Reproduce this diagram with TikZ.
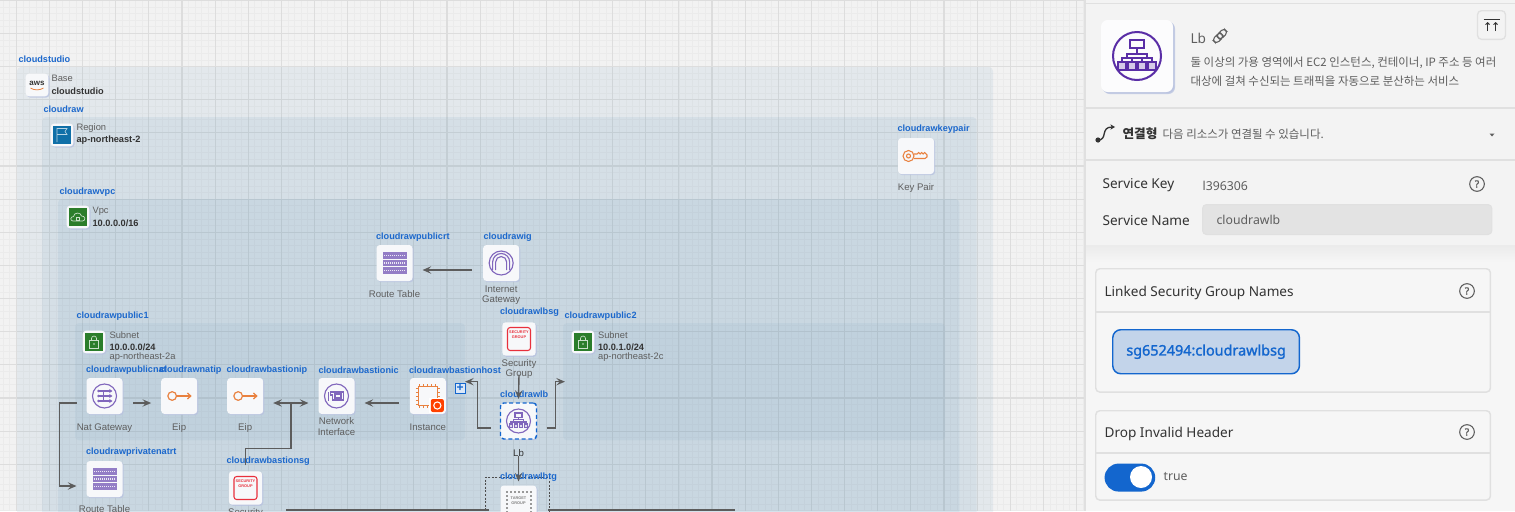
\documentclass[tikz,border=0pt]{standalone}
\usepackage{fontspec}
\setmainfont{Liberation Sans}
\newfontfamily\panelfont{Noto Sans}
\newfontfamily\chipfont{Noto Sans}[FakeBold=1.5]
\newfontfamily\krfont{Noto Sans CJK KR}
\usetikzlibrary{arrows.meta,positioning,shadows}
\definecolor{canvasbg}{HTML}{F2F2F2}
\definecolor{gridminor}{HTML}{EBEBEB}
\definecolor{gridmajor}{HTML}{DDDDDD}
\definecolor{groupblue}{HTML}{5088B0}
\definecolor{tagblue}{HTML}{1C68CC}
\definecolor{tilefill}{HTML}{F7F8FA}
\definecolor{tileshade}{HTML}{B9C3E0}
\definecolor{iconpurple}{HTML}{8066BC}
\definecolor{deeppurple}{HTML}{5A2EA6}
\definecolor{iconorange}{HTML}{E9813F}
\definecolor{iconred}{HTML}{E8303C}
\definecolor{icongreen}{HTML}{2B7D2B}
\definecolor{iconblue}{HTML}{0F6FA8}
\definecolor{wirecolor}{HTML}{5C5C5C}
\definecolor{textdark}{HTML}{333333}
\definecolor{textgray}{HTML}{5E5E5E}
\definecolor{panelbg}{HTML}{F3F3F3}
\definecolor{cardbg}{HTML}{F6F6F6}
\definecolor{panelline}{HTML}{E0E0E0}
\definecolor{chipfill}{HTML}{C3D4EA}
\definecolor{uiblue}{HTML}{1366CE}
\tikzset{
  groupbox/.style={
    rectangle,
    rounded corners=3pt,
    fill=groupblue,
    fill opacity=0.09,
    anchor=north west,
    outer sep=0pt
  },
  subnetbox/.style={
    groupbox,
    fill opacity=0.065,
    minimum height=88pt
  },
  tile/.style={
    rectangle,
    rounded corners=2.5pt,
    fill=tilefill,
    minimum size=27pt,
    inner sep=0pt,
    outer sep=0pt,
    drop shadow={shadow xshift=.9pt,shadow yshift=-.9pt,fill=tileshade,opacity=.8}
  },
  smalltile/.style={
    tile,
    minimum size=17pt
  },
  sgtile/.style={
    tile,
    minimum size=25pt
  },
  picked/.style={
    draw=uiblue,
    line width=1.1pt,
    densely dashed
  },
  nametag/.style={
    anchor=west,
    inner sep=0pt,
    text=tagblue,
    font=\fontsize{6.85}{9}\selectfont\bfseries
  },
  kindtext/.style={
    anchor=west,
    inner sep=0pt,
    text=textgray,
    font=\fontsize{7}{8}\selectfont
  },
  valuetext/.style={
    anchor=west,
    inner sep=0pt,
    text=textdark,
    font=\fontsize{6.9}{8}\selectfont\bfseries
  },
  tiletext/.style={
    align=center,
    inner sep=0pt,
    text=textgray,
    font=\fontsize{7.2}{7.6}\selectfont
  },
  wire/.style={
    line width=1.05pt,
    draw=wirecolor
  },
  flow/.style={
    wire,
    -{Stealth[length=6.5pt,width=5.5pt,inset=2.5pt]}
  },
  bothflow/.style={
    wire,
    {Stealth[length=6.5pt,width=5.5pt,inset=2.5pt]}-{Stealth[length=6.5pt,width=5.5pt,inset=2.5pt]}
  },
  paneltext/.style={
    anchor=west,
    inner sep=0pt,
    yshift=-1.1pt,
    text=textdark,
    font=\panelfont\fontsize{10.2}{12}\selectfont
  },
  panelsmall/.style={
    paneltext,
    text=textgray,
    font=\panelfont\fontsize{9.2}{11}\selectfont
  },
  krtext/.style={
    anchor=west,
    inner sep=0pt,
    text=textgray,
    font=\krfont\fontsize{8.6}{10}\selectfont
  },
  card/.style={
    rectangle,
    rounded corners=3pt,
    draw=panelline,
    line width=1.1pt,
    fill=cardbg,
    anchor=north west
  },
  helpmark/.style={
    circle,
    draw=textgray,
    line width=.8pt,
    minimum size=11pt,
    inner sep=0pt,
    text=textgray,
    font=\chipfont\fontsize{7.5}{8}\selectfont
  },
  rule/.style={
    line width=1.1pt,
    draw=panelline
  },
  rticon/.pic={
    \foreach \ry in {-7.5,0,7.5} {
      \fill[iconpurple!85] (-12,\ry-3.2) rectangle (12,\ry+3.2);
      \draw[white!85!iconpurple,line width=.9pt,dash pattern=on 1pt off .5pt] (-10.5,\ry) -- (10.5,\ry);
    }
  },
  igwicon/.pic={
    \draw[iconpurple] (0,0) circle (12);
    \draw[iconpurple] (-5.5,7) -- (-5.5,-1) arc[start angle=180,end angle=0,x radius=5.5,y radius=-5.5] -- (5.5,7);
    \draw[iconpurple] (-8.5,7) -- (-8.5,-1) arc[start angle=180,end angle=0,x radius=8.5,y radius=-8.5] -- (8.5,7);
  },
  naticon/.pic={
    \draw[iconpurple] (0,0) circle (12);
    \foreach \ay in {-5,0,5} {
      \draw[iconpurple,-{Stealth[length=2.5pt,width=3pt]}] (-6,\ay) -- (8,\ay);
      \fill[iconpurple] (-6,\ay) circle (1.4);
    }
    \draw[iconpurple] (-1,-5) -- (-1,5);
  },
  eipicon/.pic={
    \draw[iconorange,line width=.9pt] (-7,0) circle (4.3);
    \draw[iconorange,line width=.9pt,-{Straight Barb[length=2.5pt,width=4.5pt]}] (-2.7,0) -- (12.5,0);
  },
  nicicon/.pic={
    \draw[iconpurple] (0,0) circle (12);
    \draw[iconpurple] (-6,-4) -- (7,-4) -- (7,4) -- (-4,4) -- (-4,-1) -- (-6,-1) -- cycle;
    \draw[iconpurple] (-1.5,-2) rectangle (4.5,2);
    \draw[iconpurple] (-8,-4) -- (-8,5);
  },
  instanceicon/.pic={
    \draw[iconorange,line width=.9pt] (-9.5,-9.5) rectangle (9.5,9.5);
    \foreach \pk in {-8,-4,0,4,8} {
      \draw[iconorange,line width=.7pt] (\pk,-12) -- (\pk,-9.5) (\pk,9.5) -- (\pk,12);
      \draw[iconorange,line width=.7pt] (-12,\pk) -- (-9.5,\pk) (9.5,\pk) -- (12,\pk);
    }
    \fill[white] (1.5,1.5) rectangle (16.5,16.5);
    \fill[orange!50!red,rounded corners=1.5pt] (3,3) rectangle (16,16);
    \draw[white,line width=.8pt] (9.5,9.5) circle (3.6);
  },
  lbicon/.pic={
    \draw[iconpurple] (0,0) circle (12);
    \draw[iconpurple] (-3.5,-8) rectangle (3.5,-3.8);
    \draw[iconpurple] (0,-3.8) -- (0,-1.2) (-5,1) -- (-5,-1.2) -- (5,-1.2) -- (5,1);
    \draw[iconpurple] (-7.5,3) -- (-7.5,1) -- (7.5,1) -- (7.5,3) (-2.5,1) -- (-2.5,3) (2.5,1) -- (2.5,3);
    \foreach \lx in {-7.5,-2.5,2.5,7.5} {
      \draw[iconpurple,fill=iconpurple!25] (\lx-1.8,3) rectangle (\lx+1.8,6.8);
    }
  },
  sgicon/.pic={
    \draw[iconred,line width=.8pt,rounded corners=2pt] (-11.5,-11.5) rectangle (11.5,11.5);
    \node[inner sep=0pt,align=center,text=iconred,font=\fontsize{2.9}{4.2}\selectfont\bfseries] (-sgword) at (0,-4.5) {SECURITY\\GROUP};
  },
  tgicon/.pic={
    \foreach \tk in {-12,-8,-4,0,4,8,12} {
      \fill[gray!80] (\tk-1,-13) rectangle (\tk+1,-11);
      \fill[gray!80] (-13,\tk-1) rectangle (-11,\tk+1);
      \fill[gray!80] (11,\tk-1) rectangle (13,\tk+1);
    }
    \node[inner sep=0pt,align=center,text=gray,font=\fontsize{2.9}{4.2}\selectfont\bfseries] (-tgword) at (0,-3) {TARGET\\GROUP};
  },
  keyicon/.pic={
    \draw[iconorange,line width=.8pt] (-7.5,0) circle (5.5) (-7.5,0) circle (2);
    \draw[iconorange,line width=.8pt] (-2,-2) -- (1,-2) -- (2.5,-3.5) -- (4,-2) -- (5.5,-3.5) -- (7,-2) -- (8.5,-3.5) -- (11,-1) -- (11,1) -- (9,2.5) -- (-2,2.5);
  },
  awsicon/.pic={
    \node[inner sep=0pt,text=textdark,font=\fontsize{6}{6}\selectfont\bfseries] (-awsword) at (0,-2) {aws};
    \draw[iconorange,line width=.6pt] (-6.5,3) .. controls (-3,5.5) and (3,5.5) .. (6.5,3);
  },
  flagicon/.pic={
    \fill[iconblue] (-9,-9) rectangle (9,9);
    \draw[white!70!iconblue,line width=.5pt] (-5,7) -- (-5,-6.5) -- (5,-6.5) -- (3,-3.5) -- (5,-.5) -- (-5,-.5);
  },
  cloudicon/.pic={
    \fill[icongreen] (-9,-9) rectangle (9,9);
    \draw[white!75!icongreen,line width=.5pt] (-5,4) .. controls (-8,4) and (-8,-.5) .. (-4.5,-.5) .. controls (-4,-5) and (3,-5) .. (3.5,-1) .. controls (7.5,-1.5) and (8,4) .. (4.5,4) -- cycle;
    \draw[white!75!icongreen,line width=.4pt] (-1.5,.5) rectangle (1.5,3);
  },
  lockicon/.pic={
    \fill[icongreen] (-9,-9) rectangle (9,9);
    \draw[white!75!icongreen,line width=.5pt] (-4.5,-1.5) rectangle (4.5,6);
    \draw[white!75!icongreen,line width=.5pt] (-2.5,-1.5) -- (-2.5,-3.5) arc[start angle=180,end angle=0,x radius=2.5,y radius=-2.5] -- (2.5,-1.5);
    \fill[white!75!icongreen] (0,2) circle (.9);
  }
}
\begin{document}
\begin{tikzpicture}[x=.75pt,y=-.75pt,line width=.85pt]
  \useasboundingbox (0,0) rectangle (1515,511);
  \clip (0,0) rectangle (1515,511);
  \fill[canvasbg] (0,0) rectangle (1086,511);

  % canvas grid
  \foreach \gi in {0,...,163} \draw[gridminor,line width=.6pt] ({3.05+6.626*\gi},0) -- ({3.05+6.626*\gi},511);
  \foreach \gi in {0,...,77} \draw[gridminor,line width=.6pt] (0,{.37+6.626*\gi}) -- (1086,{.37+6.626*\gi});
  \foreach \gi in {0,...,32} \draw[gridmajor,line width=.85pt] ({16.3+33.13*\gi},0) -- ({16.3+33.13*\gi},511);
  \foreach \gi in {0,...,14} \draw[gridmajor,line width=.85pt] (0,{.37+33.13*\gi}) -- (1086,{.37+33.13*\gi});

  % groups
  \node[groupbox,minimum width=732pt,minimum height=400pt] (cloudstudio) at (17,67) {};
  \node[groupbox,minimum width=701pt,minimum height=380pt] (cloudraw) at (42,117) {};
  \node[groupbox,minimum width=676pt,minimum height=320pt] (cloudrawvpc) at (58,199) {};
  \node[subnetbox,minimum width=292.5pt] (cloudrawpublic1) at (75,323) {};
  \node[subnetbox,minimum width=286.5pt] (cloudrawpublic2) at (563,323) {};

  % group headers
  \node[nametag] (tagstudio) at (18,59) {cloudstudio};
  \node[smalltile] (basetile) at (37,85) {};
  \pic at (basetile) {awsicon};
  \node[kindtext] (basekind) at (51,78) {Base};
  \node[valuetext] (basevalue) at (51,91) {cloudstudio};

  \node[nametag] (tagraw) at (43,109) {cloudraw};
  \node[smalltile] (regiontile) at (62,135) {};
  \pic at (regiontile) {flagicon};
  \node[kindtext] (regionkind) at (76,128) {Region};
  \node[valuetext] (regionvalue) at (76,140) {ap-northeast-2};

  \node[nametag] (tagvpc) at (59,192) {cloudrawvpc};
  \node[smalltile] (vpctile) at (78,217) {};
  \pic at (vpctile) {cloudicon};
  \node[kindtext] (vpckind) at (92,211) {Vpc};
  \node[valuetext] (vpcvalue) at (92,223) {10.0.0.0/16};

  \node[nametag] (tagpublic1) at (76,316) {cloudrawpublic1};
  \node[smalltile] (subnet1tile) at (94,342) {};
  \pic at (subnet1tile) {lockicon};
  \node[kindtext] (subnet1kind) at (109,335) {Subnet};
  \node[valuetext] (subnet1value) at (109,347) {10.0.0.0/24};
  \node[kindtext] (subnet1zone) at (109,357) {ap-northeast-2a};

  \node[nametag] (tagpublic2) at (564,316) {cloudrawpublic2};
  \node[smalltile] (subnet2tile) at (583,342) {};
  \pic at (subnet2tile) {lockicon};
  \node[kindtext] (subnet2kind) at (597.5,335) {Subnet};
  \node[valuetext] (subnet2value) at (597.5,347) {10.0.1.0/24};
  \node[kindtext] (subnet2zone) at (597.5,357) {ap-northeast-2c};

  % resources
  \node[tile] (cloudrawkeypair) at (916,156) {};
  \pic at (cloudrawkeypair) {keyicon};
  \node[tiletext,below=6.8pt of cloudrawkeypair] (keypairtext) {Key Pair};
  \node[nametag] (tagkeypair) at (897,129) {cloudrawkeypair};

  \node[tile] (cloudrawpublicrt) at (394.5,263) {};
  \pic at (cloudrawpublicrt) {rticon};
  \node[tiletext,below=6.8pt of cloudrawpublicrt] (publicrttext) {Route Table};
  \node[nametag] (tagpublicrt) at (375.5,237) {cloudrawpublicrt};

  \node[tile,right=53pt of cloudrawpublicrt] (cloudrawig) {};
  \pic at (cloudrawig) {igwicon};
  \node[tiletext,below=3.2pt of cloudrawig] (igtext) {Internet\\Gateway};
  \node[nametag] (tagig) at (483,237) {cloudrawig};

  \node[sgtile] (cloudrawlbsg) at (519,339) {};
  \pic at (cloudrawlbsg) {sgicon};
  \node[tiletext,below=2.5pt of cloudrawlbsg] (lbsgtext) {Security\\Group};
  \node[nametag] (taglbsg) at (499.5,312) {cloudrawlbsg};

  \node[tile] (cloudrawpublicnat) at (104.5,396) {};
  \pic at (cloudrawpublicnat) {naticon};
  \node[tiletext,below=6.8pt of cloudrawpublicnat] (nattext) {Nat Gateway};
  \node[nametag] (tagpublicnat) at (85.5,370) {cloudrawpublicnat};

  \node[tile,right=29pt of cloudrawpublicnat] (cloudrawnatip) {};
  \pic at (cloudrawnatip) {eipicon};
  \node[tiletext,below=6.8pt of cloudrawnatip] (natiptext) {Eip};
  \node[nametag] (tagnatip) at (159,370) {cloudrawnatip};

  \node[tile,right=22.5pt of cloudrawnatip] (cloudrawbastionip) {};
  \pic at (cloudrawbastionip) {eipicon};
  \node[tiletext,below=6.8pt of cloudrawbastionip] (bastioniptext) {Eip};
  \node[nametag] (tagbastionip) at (226,370) {cloudrawbastionip};

  \node[tile,right=41.5pt of cloudrawbastionip] (cloudrawbastionic) {};
  \pic at (cloudrawbastionic) {nicicon};
  \node[tiletext,below=2.5pt of cloudrawbastionic] (bastionictext) {Network\\Interface};
  \node[nametag] (tagbastionic) at (318,370) {cloudrawbastionic};

  \node[tile,right=41.5pt of cloudrawbastionic] (cloudrawbastionhost) {};
  \pic at (cloudrawbastionhost) {instanceicon};
  \node[tiletext,below=6.8pt of cloudrawbastionhost] (hosttext) {Instance};
  \node[nametag] (taghost) at (408.5,370) {cloudrawbastionhost};
  \node[draw=uiblue,fill=white!85!uiblue,line width=.6pt,minimum size=7.5pt,inner sep=0pt,text=uiblue,font=\fontsize{9}{9}\selectfont\bfseries] (hostplus) at (460,388) {+};

  \node[tile,picked] (cloudrawlb) at (518.5,421) {};
  \pic at (cloudrawlb) {lbicon};
  \node[tiletext,below=7.3pt of cloudrawlb,text=textdark] (lbtext) {Lb};
  \node[nametag] (taglb) at (499.5,394) {cloudrawlb};

  \node[tile] (cloudrawprivatenatrt) at (104.5,479) {};
  \pic at (cloudrawprivatenatrt) {rticon};
  \node[tiletext,below=6pt of cloudrawprivatenatrt] (privatertext) {Route Table};
  \node[nametag] (tagprivatert) at (85.5,452) {cloudrawprivatenatrt};

  \node[sgtile] (cloudrawbastionsg) at (245.5,488) {};
  \pic at (cloudrawbastionsg) {sgicon};
  \node[tiletext,below=2.5pt of cloudrawbastionsg] (bastionsgtext) {Security};
  \node[nametag] (tagbastionsg) at (226,461) {cloudrawbastionsg};

  \node[rectangle,draw=black!70,dash pattern=on 1.5pt off 1.2pt,line width=.4pt,minimum width=48pt,minimum height=40pt,anchor=north west] (cloudrawlbtgbox) at (485,477) {};
  \node[tile] (cloudrawlbtg) at (518.5,503.5) {};
  \pic at (cloudrawlbtg) {tgicon};
  \node[nametag] (taglbtg) at (499.5,477) {cloudrawlbtg};

  \coordinate (bastionjoin) at (291,403);
  \coordinate (tgleftend) at (286,510);
  \coordinate (tgrightend) at (735,510);

  % connectors
  \draw[flow] ([shift={(-11,7)}]cloudrawig.west) -- ([shift={(10,7)}]cloudrawpublicrt.east);
  \draw[flow] ([shift={(10.5,7)}]cloudrawpublicnat.east) -- ([shift={(-10,7)}]cloudrawnatip.west);
  \draw[bothflow] ([shift={(10,7)}]cloudrawbastionip.east) -- ([shift={(-10,7)}]cloudrawbastionic.west);
  \draw[flow] ([shift={(-11,7)}]cloudrawbastionhost.west) -- ([shift={(10,7)}]cloudrawbastionic.east);
  \draw[wire] ([shift={(0,-6)}]cloudrawbastionsg.north) -- ++(0,-17) -| (bastionjoin);
  \draw[flow] ([shift={(-10,7)}]cloudrawpublicnat.west) -- ++(-17,0) |- ([shift={(-10,7)}]cloudrawprivatenatrt.west);
  \draw[flow] ([shift={(-10,7)}]cloudrawlb.west) -- ++(-13,0) |- (cloudrawpublic1.east);
  \draw[flow] ([shift={(10,7)}]cloudrawlb.east) -- ++(9,0) |- ([shift={(2,0)}]cloudrawpublic2.west);
  \draw[flow] ([shift={(0,19)}]cloudrawlbsg.south) -- ([shift={(0,-4)}]cloudrawlb.north);
  \draw[flow] ([shift={(0,17)}]cloudrawlb.south) -- ([shift={(0,-4)}]cloudrawlbtg.north);
  \draw[wire] (tgleftend) -- ([shift={(-12,0)}]cloudrawlbtg.west |- tgleftend);
  \draw[wire] ([shift={(11,0)}]cloudrawlbtg.east |- tgrightend) -- (tgrightend);

  % side panel
  \fill[panelbg] (1086,0) rectangle (1515,511);
  \fill[cardbg] (1086,245) rectangle (1515,511);
  \draw[rule] (1085,0) -- (1085,511);
  \draw[rule] (1086,3.5) -- (1515,3.5);
  \draw[rule] (1086,108) -- (1515,108);
  \draw[rule] (1086,160) -- (1515,160);
  \node[tile,minimum size=54pt,rounded corners=5pt,fill=white!60!tilefill,drop shadow={shadow xshift=1.5pt,shadow yshift=-1.5pt,fill=tileshade,opacity=.8}] (paneltile) at (1137,56) {};
  \begin{scope}[line width=1.5pt]
    \colorlet{iconpurple}{deeppurple}
    \pic[scale=2] at (paneltile) {lbicon};
  \end{scope}
  \node[paneltext,text=textgray] (paneltitle) at (1190,36.5) {Lb};
  \draw[textgray,line width=.8pt,rounded corners=2.5pt,rotate around={45:(1220,36)}] (1212,33) rectangle (1222.5,39) (1217.5,33) rectangle (1228,39);
  \node[krtext] (paneltext1) at (1190,63) {둘 이상의 가용 영역에서 EC2 인스턴스, 컨테이너, IP 주소 등 여러};
  \node[krtext] (paneltext2) at (1190,81) {대상에 걸쳐 수신되는 트래픽을 자동으로 분산하는 서비스};
  \node[draw=panelline,line width=1pt,rounded corners=3pt,minimum width=21pt,minimum height=21.5pt] (topbutton) at (1491.5,25) {};
  \draw[textdark,line width=.7pt] (1483.5,19) -- (1499.5,19);
  \draw[textdark,line width=.7pt,-{Straight Barb[length=1.5pt,width=3pt]}] (1487.5,31) -- (1487.5,22);
  \draw[textdark,line width=.7pt,-{Straight Barb[length=1.5pt,width=3pt]}] (1495.5,31) -- (1495.5,22);

  \fill[textdark] (1098,140) circle (2.6);
  \draw[textdark,line width=1pt,-{Stealth[length=3.5pt,width=4pt]}] (1098,140) .. controls (1108,140) and (1100,127) .. (1115,127);
  \node[krtext,text=textdark,font=\krfont\fontsize{9.5}{11}\selectfont\bfseries] (linkhead) at (1122,134) {연결형};
  \node[krtext] (linkdesc) at (1162,134.5) {다음 리소스가 연결될 수 있습니다.};
  \fill[textgray] (1489.5,133.5) -- (1494.5,133.5) -- (1492,136.5) -- cycle;

  \node[paneltext] (keylabel) at (1102,184) {Service Key};
  \node[panelsmall] (keyvalue) at (1202,184) {l396306};
  \node[helpmark] (keyhelp) at (1477,184) {?};
  \node[paneltext] (namelabel) at (1102,219) {Service Name};
  \node[rectangle,rounded corners=3pt,draw=panelline,fill=gray!22,line width=.8pt,anchor=north west,minimum width=217pt,minimum height=22.5pt] (namefield) at (1202,204) {};
  \node[panelsmall] (namevalue) at (1216,218) {cloudrawlb};

  \shade[top color=gray!16,bottom color=cardbg] (1086,245) rectangle (1515,262);

  \node[card,minimum width=296pt,minimum height=92.5pt] (sgcard) at (1095,268) {};
  \draw[rule] (sgcard.west |- 0,312) -- (sgcard.east |- 0,312);
  \node[paneltext] (sgcardtitle) at (1104,291) {Linked Security Group Names};
  \node[helpmark] (sgcardhelp) at (1467,291) {?};
  \node[rectangle,rounded corners=6pt,draw=uiblue,fill=chipfill,line width=1.1pt,minimum width=140pt,minimum height=33pt,anchor=north west,text=uiblue,font=\chipfont\fontsize{10.8}{12}\selectfont] (sgchip) at (1112,329) {sg652494:cloudrawlbsg};

  \node[card,minimum width=296pt,minimum height=67pt] (headercard) at (1095,410) {};
  \draw[rule] (headercard.west |- 0,453) -- (headercard.east |- 0,453);
  \node[paneltext] (headertitle) at (1104,432) {Drop Invalid Header};
  \node[helpmark] (headerhelp) at (1467,432) {?};
  \node[rectangle,rounded corners=10.5pt,fill=uiblue,minimum width=38pt,minimum height=21pt,anchor=north west] (toggletrack) at (1104,463) {};
  \node[circle,fill=white,minimum size=16.5pt,inner sep=0pt] (toggleknob) at (1141,477) {};
  \node[panelsmall] (togglevalue) at (1163,475.5) {true};
\end{tikzpicture}
\end{document}
